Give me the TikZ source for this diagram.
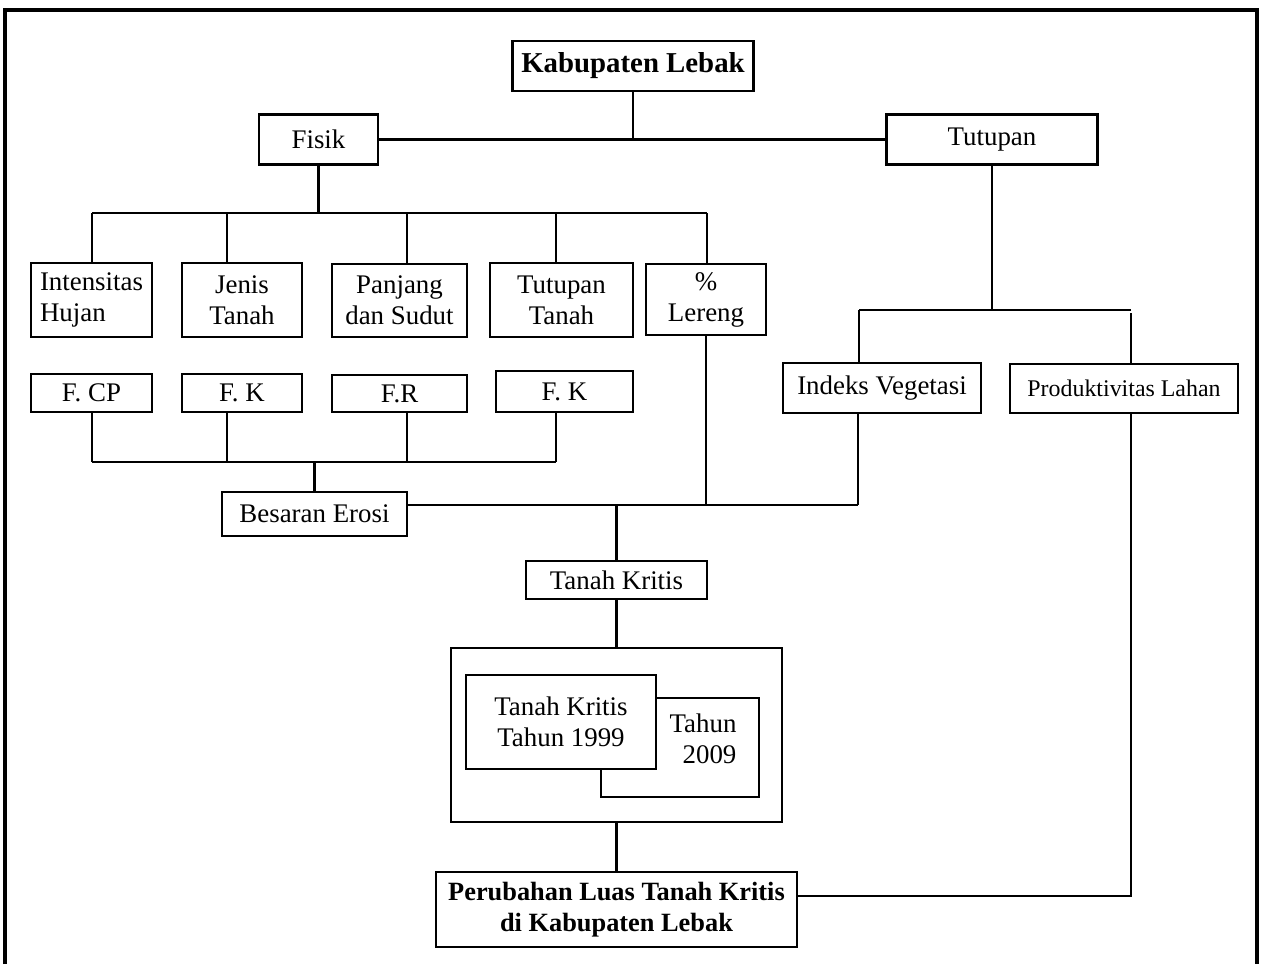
\documentclass[tikz,border=0pt]{standalone}
\usepackage{fontspec}
\setmainfont{Liberation Serif}
\newcommand{\teks}{\fontsize{15.3}{17.6}\selectfont}
\newcommand{\judul}{\fontsize{16.4}{19}\selectfont\bfseries}
\newcommand{\tebal}{\fontsize{15}{17.8}\selectfont\bfseries}
\newcommand{\kecil}{\fontsize{13.6}{16}\selectfont}

\begin{document}
\begin{tikzpicture}[x=0.02cm,y=-0.02cm,line width=1.4pt,font=\teks,
  kotak/.style={draw,fill=white,align=center,inner sep=0pt},
  sz/.style 2 args={minimum width=#1*0.02cm,minimum height=#2*0.02cm}]
\useasboundingbox (0,0) rectangle (1263,964);
% bingkai
\draw[line width=2pt] (5,964) -- (5,10) -- (1257,10) -- (1257,964);
% Kabupaten Lebak
\node[kotak,sz={241}{50},font=\judul] (kab) at (633,66) {Kabupaten Lebak};
\node[kotak,sz={119}{50}] (fisik) at (318.5,139.5) {Fisik};
\node[kotak,sz={211}{50}] (tutupan) at (992,139.5) {Tutupan};
\draw (fisik.east) -- (tutupan.west);
\draw (kab.south) -- (kab.south |- fisik.east);
% Fisik
\node[kotak,sz={121}{74},align=left,text width=103*0.02cm] (hujan) at (91.5,300) {Intensitas\\Hujan};
\node[kotak,sz={120}{74}] (jenis) at (242,300) {Jenis\\Tanah};
\node[kotak,sz={135}{73}] (panjang) at (399.5,300.5) {Panjang\\dan Sudut};
\node[kotak,sz={143}{74}] (tanah) at (561.5,300) {Tutupan\\Tanah};
\node[kotak,sz={120}{71}] (lereng) at (706,299.5) {\%\\Lereng};
\draw (fisik.south) -- (fisik.south |- 0,213);
\draw (92,213) -- (707,213);
\foreach \n/\x in {hujan/92,jenis/227,panjang/407,tanah/556,lereng/707}
  \draw (\x,213) -- (\x,0 |- \n.north);
% faktor
\node[kotak,sz={121}{38}] (fcp) at (91.5,393) {F. CP};
\node[kotak,sz={120}{38}] (fk) at (242,393) {F. K};
\node[kotak,sz={135}{37}] (fr) at (399.5,393.5) {F.R};
\node[kotak,sz={137}{41}] (fc) at (564.5,391.5) {F. K};
\foreach \n/\x in {fcp/92,fk/227,fr/407,fc/556}
  \draw (\x,0 |- \n.south) -- (\x,462);
\draw (92,462) -- (556,462);
% Besaran Erosi
\node[kotak,sz={185}{44}] (erosi) at (314.5,514) {Besaran Erosi};
\draw (erosi.north |- 0,462) -- (erosi.north);
% Tutupan
\node[kotak,sz={198}{50}] (indeks) at (882,388) {Indeks Vegetasi};
\node[kotak,sz={228}{49},font=\kecil] (produk) at (1124,388.5) {Produktivitas Lahan};
\draw (tutupan.south) -- (tutupan.south |- 0,310);
\draw (859,310) -- (1131,310);
\draw (859,310) -- (859,0 |- indeks.north);
\draw (1131,313) -- (1131,0 |- produk.north);
% Tanah Kritis
\node[kotak,sz={181}{38}] (kritis) at (616.5,580) {Tanah Kritis};
\draw (erosi.east |- 0,505) -- (858,505);
\draw (lereng.south) -- (lereng.south |- 0,505);
\draw (858,0 |- indeks.south) -- (858,505);
\draw (kritis.north |- 0,505) -- (kritis.north);
% perbandingan
\node[kotak,sz={331}{174}] (luar) at (616.5,735) {};
\node[kotak,sz={158}{99}] (th2009) at (680,747.5) {};
\node[align=right,inner sep=0pt] (th2009teks) at (703,739) {Tahun\\2009};
\node[kotak,sz={190}{94}] (th1999) at (561,722) {Tanah Kritis\\Tahun 1999};
\draw (kritis.south) -- (luar.north);
% Perubahan
\node[kotak,sz={361}{75},font=\tebal] (ubah) at (616.5,909.5) {Perubahan Luas Tanah Kritis\\di Kabupaten Lebak};
\draw (luar.south) -- (ubah.north);
\draw (1131,0 |- produk.south) |- (ubah.east |- 0,896);
\end{tikzpicture}
\end{document}
